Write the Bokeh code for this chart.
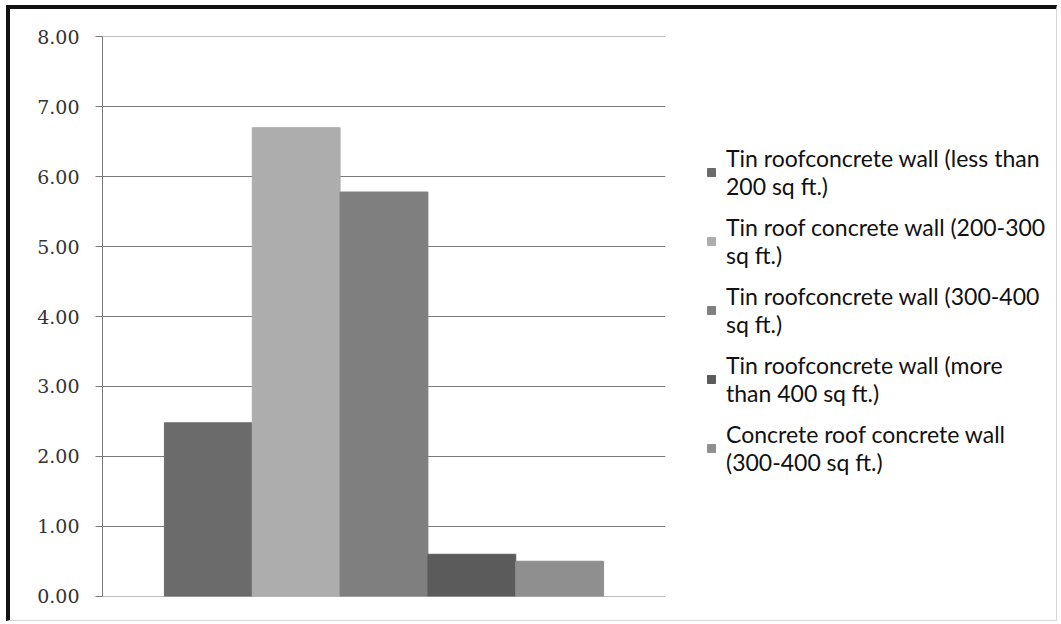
from bokeh.plotting import figure
from bokeh.layouts import row
from bokeh.models import (FixedTicker, NumeralTickFormatter, Legend, LegendItem,
                          ColumnDataSource, FactorRange, Range1d)
from bokeh.transform import dodge
from bokeh.embed import file_html
from bokeh.resources import INLINE

categories = ["Housing"]
series = [
    "Tin roofconcrete wall (less than\n200 sq ft.)",
    "Tin roof concrete wall (200-300\nsq ft.)",
    "Tin roofconcrete wall (300-400\nsq ft.)",
    "Tin roofconcrete wall (more\nthan 400 sq ft.)",
    "Concrete roof concrete wall\n(300-400 sq ft.)",
]
values = [2.48, 6.70, 5.78, 0.60, 0.50]
colors = ["#6b6b6b", "#adadad", "#7f7f7f", "#5b5b5b", "#8f8f8f"]
y_ticks = [0, 1, 2, 3, 4, 5, 6, 7, 8]

H = 611
W1, W2 = 690, 356
p = figure(width=W1, height=H, x_range=FactorRange(factors=categories),
           y_range=Range1d(-0.004, 8.004), output_backend="svg", toolbar_location=None,
           min_border_left=92, min_border_right=W1 - 655, min_border_top=27,
           min_border_bottom=24)
p.outline_line_color = None
p.background_fill_color = "white"
p.border_fill_color = "white"

src = ColumnDataSource({"cat": categories, **{f"v{i}": [v] for i, v in enumerate(values)}})
bw = 0.156
offsets = [-2 * bw, -bw, 0, bw, 2 * bw]
for i, c in enumerate(colors):
    p.vbar(x=dodge("cat", offsets[i], range=p.x_range), top=f"v{i}", width=bw,
           source=src, fill_color=c, line_color=c, line_width=1)

p.xaxis.visible = False
p.xgrid.visible = False
yax = p.yaxis[0]
yax.ticker = FixedTicker(ticks=y_ticks)
yax.formatter = NumeralTickFormatter(format="0.00")
yax.axis_line_color = "#7a7a7a"
yax.major_tick_line_color = "#7a7a7a"
yax.major_tick_out = 7
yax.major_tick_in = 0
yax.minor_tick_line_color = None
yax.major_label_standoff = 16
yax.major_label_text_font = "DejaVu Serif"
yax.major_label_text_font_size = "19px"
yax.major_label_text_color = "#333333"
p.ygrid.ticker = FixedTicker(ticks=y_ticks)
p.ygrid.grid_line_color = "#7a7a7a"
p.ygrid.grid_line_width = 1

# legend panel: one hidden renderer per series carries the legend swatch
q = figure(width=W2, height=H, x_range=FactorRange(factors=categories), y_range=Range1d(0, 8),
           output_backend="svg", toolbar_location=None,
           min_border_left=0, min_border_right=0, min_border_top=0, min_border_bottom=0)
q.axis.visible = False
q.grid.visible = False
q.outline_line_color = None
q.border_fill_color = "white"
items = []
for i, (s, c) in enumerate(zip(series, colors)):
    r = q.vbar(x=dodge("cat", offsets[i], range=q.x_range), top=f"v{i}", width=bw,
               source=src, fill_color=c, line_color=c, visible=False)
    items.append(LegendItem(label=s, renderers=[r]))

legend = Legend(items=items, location=(6, 120), orientation="vertical")
legend.label_text_font = "Lato"
legend.label_text_font_size = "23px"
legend.label_text_color = "#111111"
legend.inactive_fill_alpha = 0
legend.glyph_width = 10
legend.glyph_height = 10
legend.label_standoff = 10
legend.spacing = 13
legend.border_line_color = None
legend.background_fill_alpha = 0
legend.padding = 0
legend.margin = 0
q.add_layout(legend)

layout = row(p, q, styles={"margin-left": "6px", "margin-top": "5px",
                           "border-top": "4px solid #111111", "border-left": "4px solid #111111",
                           "border-right": "1px solid #d8d8d8", "border-bottom": "1px solid #d8d8d8"})

open("out.html", "w").write(file_html(layout, INLINE))
